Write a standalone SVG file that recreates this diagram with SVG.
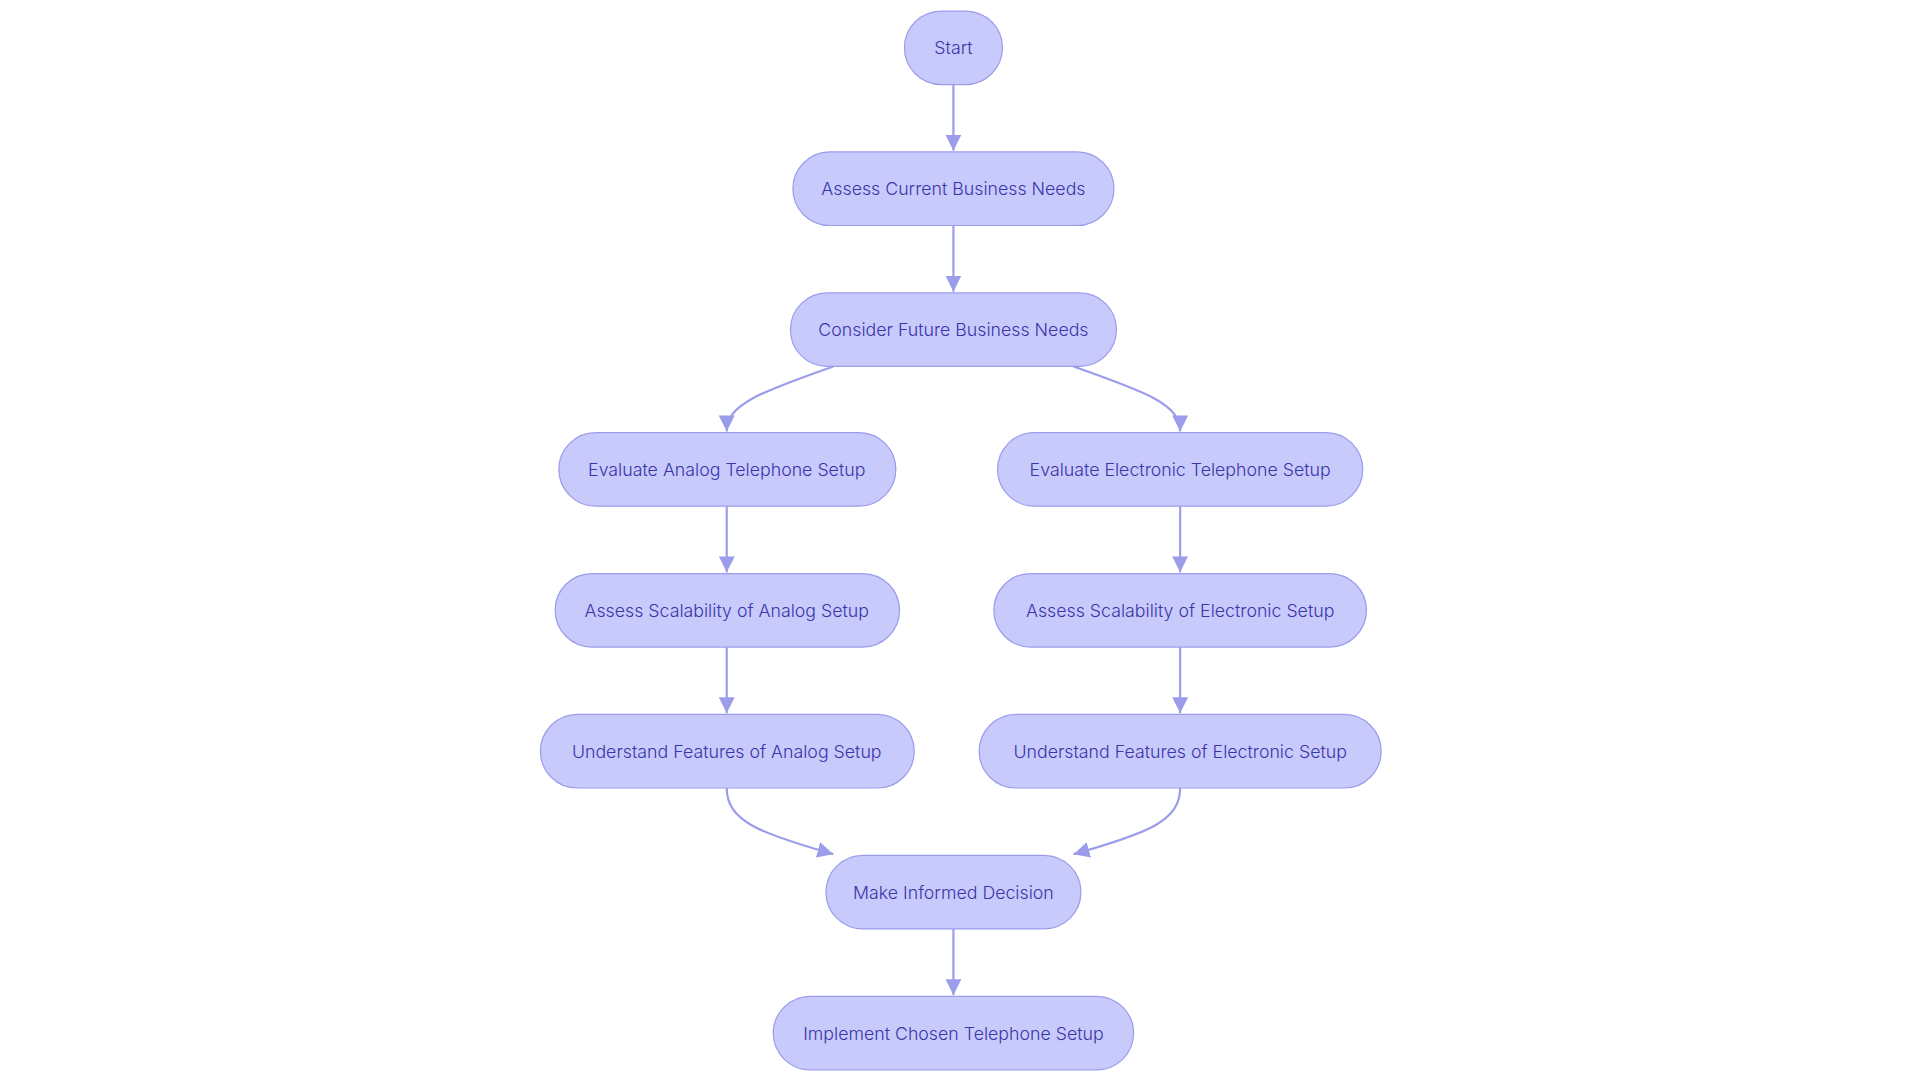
<svg xmlns="http://www.w3.org/2000/svg" width="1920" height="1080" viewBox="0 0 1920 1080">
<defs>
<marker id="a" viewBox="0 0 10 10" refX="10" refY="5" markerWidth="13" markerHeight="13" orient="auto" markerUnits="userSpaceOnUse"><path d="M0,0 L10,5 L0,10 z" fill="#9b9deb"/></marker>
<style>
.n rect{fill:#c8cafc;stroke:#9b9deb;stroke-width:1}
.n text{font-family:Inter,"Noto Sans",sans-serif;font-size:14.5px;font-weight:300;fill:#3b35a8;text-anchor:middle;dominant-baseline:central}
.e path{fill:none;stroke:#9b9deb;stroke-width:1.8;marker-end:url(#a)}
</style>
</defs>
<rect width="1920" height="1080" fill="#fff"/>
<g transform="scale(1.2255)">
<g class="e" id="connectors">
<path d="M778,69 V123"/>
<path d="M778,184 V238"/>
<path d="M680,299 C620,320 593,330 593,352"/>
<path d="M876,299 C936,320 963,330 963,352"/>
<path d="M593,413 V467"/>
<path d="M963,413 V467"/>
<path d="M593,528 V582"/>
<path d="M963,528 V582"/>
<path d="M593,643 C593,670 620,680 680,697"/>
<path d="M963,643 C963,670 936,680 876,697"/>
<path d="M778,758 V812"/>
</g>
<g class="n" id="start"><rect x="738" y="9" width="80" height="60" rx="30"/><text x="778" y="39">Start</text></g>
<g class="n" id="n1"><rect x="647" y="124" width="262" height="60" rx="30"/><text x="778" y="154">Assess Current Business Needs</text></g>
<g class="n" id="n2"><rect x="645" y="239" width="266" height="60" rx="30"/><text x="778" y="269">Consider Future Business Needs</text></g>
<g class="n" id="n3"><rect x="456" y="353" width="275" height="60" rx="30"/><text x="593" y="383">Evaluate Analog Telephone Setup</text></g>
<g class="n" id="n4"><rect x="814" y="353" width="298" height="60" rx="30"/><text x="963" y="383">Evaluate Electronic Telephone Setup</text></g>
<g class="n" id="n5"><rect x="453" y="468" width="281" height="60" rx="30"/><text x="593" y="498">Assess Scalability of Analog Setup</text></g>
<g class="n" id="n6"><rect x="811" y="468" width="304" height="60" rx="30"/><text x="963" y="498">Assess Scalability of Electronic Setup</text></g>
<g class="n" id="n7"><rect x="441" y="583" width="305" height="60" rx="30"/><text x="593" y="613">Understand Features of Analog Setup</text></g>
<g class="n" id="n8"><rect x="799" y="583" width="328" height="60" rx="30"/><text x="963" y="613">Understand Features of Electronic Setup</text></g>
<g class="n" id="n9"><rect x="674" y="698" width="208" height="60" rx="30"/><text x="778" y="728">Make Informed Decision</text></g>
<g class="n" id="n10"><rect x="631" y="813" width="294" height="60" rx="30"/><text x="778" y="843">Implement Chosen Telephone Setup</text></g>
</g>
</svg>
